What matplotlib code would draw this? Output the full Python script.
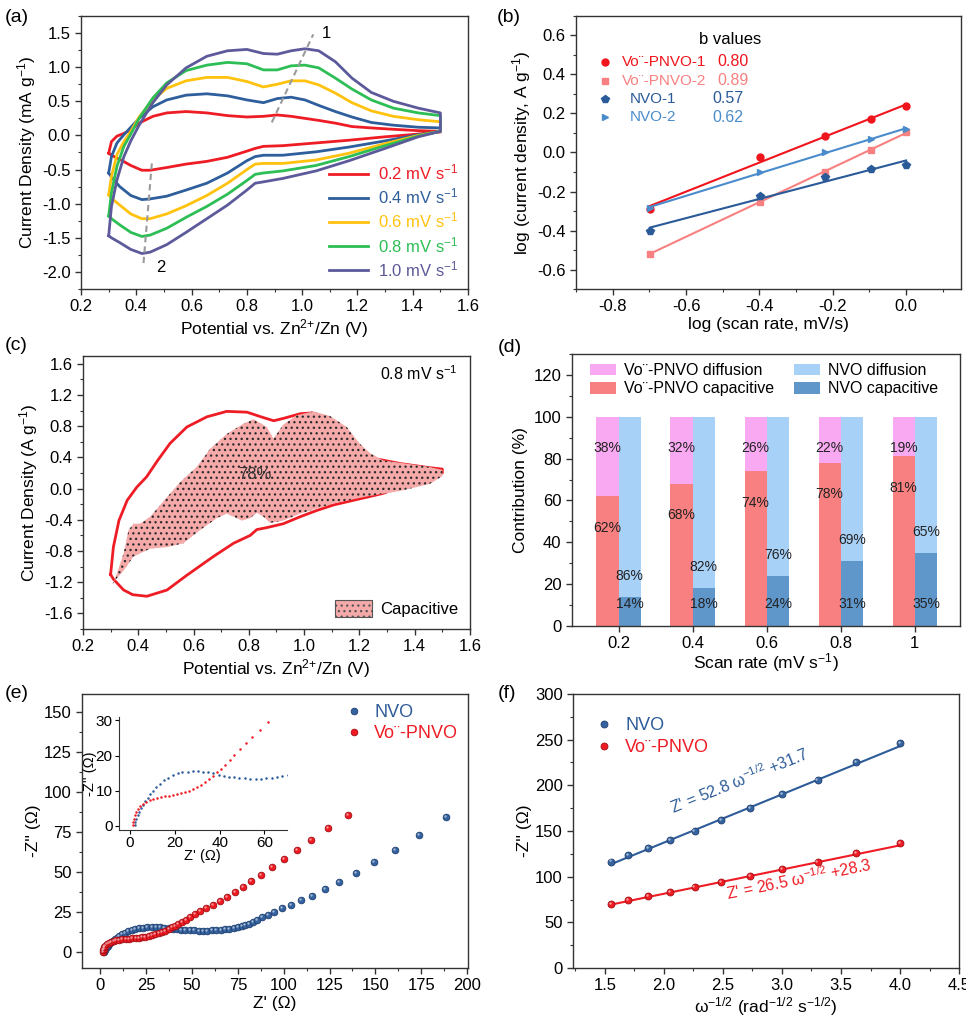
import matplotlib
matplotlib.use("Agg")
import matplotlib.pyplot as plt
import numpy as np
from matplotlib.ticker import AutoMinorLocator, MultipleLocator
from matplotlib.patches import Patch
from matplotlib.transforms import offset_copy

plt.rcParams['font.family'] = ['Liberation Sans', 'DejaVu Sans']
plt.rcParams['mathtext.default'] = 'regular'
plt.rcParams['hatch.linewidth'] = 0.9

VO = 'Vo\u00a8-PNVO'

# ---------------- (a) CV curves at different scan rates ----------------
scan_rates = [0.2, 0.4, 0.6, 0.8, 1.0]
cv_colors = ['#EE1C25', '#2E5E9C', '#FFC20E', '#2DBE55', '#5C5A9A']
v_up = [0.30, 0.31, 0.33, 0.355, 0.38, 0.41, 0.46, 0.51, 0.58, 0.655, 0.73, 0.80,
        0.86, 0.91, 0.96, 1.01, 1.06, 1.12, 1.18, 1.25, 1.33, 1.42, 1.50]
i_up_02 = [-0.26, -0.09, -0.01, 0.03, 0.08, 0.18, 0.28, 0.33, 0.35, 0.33, 0.29, 0.27,
           0.28, 0.30, 0.28, 0.25, 0.22, 0.18, 0.13, 0.11, 0.09, 0.07, 0.06]
i_up_04 = [-0.55, -0.31, -0.11, 0.01, 0.12, 0.25, 0.42, 0.52, 0.59, 0.61, 0.58, 0.52,
           0.48, 0.54, 0.56, 0.52, 0.44, 0.35, 0.27, 0.19, 0.15, 0.12, 0.11]
i_up_06 = [-0.87, -0.60, -0.28, -0.09, 0.06, 0.27, 0.52, 0.69, 0.80, 0.85, 0.85, 0.79,
           0.71, 0.75, 0.80, 0.80, 0.74, 0.62, 0.48, 0.36, 0.28, 0.23, 0.20]
i_up_08 = [-1.18, -0.84, -0.45, -0.16, 0.02, 0.25, 0.55, 0.77, 0.95, 1.03, 1.07, 1.05,
           0.96, 0.96, 1.02, 1.03, 0.99, 0.84, 0.68, 0.52, 0.40, 0.33, 0.29]
i_up_10 = [-1.47, -1.04, -0.65, -0.31, -0.08, 0.15, 0.48, 0.74, 0.99, 1.16, 1.24, 1.26,
           1.20, 1.19, 1.24, 1.27, 1.24, 1.08, 0.84, 0.63, 0.50, 0.40, 0.33]
v_lo = [1.50, 1.42, 1.30, 1.17, 1.05, 0.93, 0.86, 0.83, 0.80, 0.73, 0.655, 0.58,
        0.51, 0.45, 0.42, 0.38, 0.34, 0.31, 0.30]
i_lo_02 = [0.05, 0.02, -0.02, -0.07, -0.11, -0.15, -0.16, -0.19, -0.23, -0.32, -0.38, -0.42,
           -0.47, -0.51, -0.51, -0.44, -0.35, -0.29, -0.26]
i_lo_04 = [0.06, 0.01, -0.08, -0.17, -0.24, -0.29, -0.29, -0.31, -0.37, -0.55, -0.70, -0.80,
           -0.89, -0.93, -0.94, -0.88, -0.75, -0.61, -0.55]
i_lo_06 = [0.06, 0.00, -0.12, -0.26, -0.36, -0.41, -0.41, -0.42, -0.50, -0.70, -0.88, -1.03,
           -1.15, -1.22, -1.22, -1.15, -1.02, -0.92, -0.87]
i_lo_08 = [0.06, -0.01, -0.15, -0.31, -0.44, -0.52, -0.55, -0.57, -0.66, -0.86, -1.04, -1.20,
           -1.36, -1.46, -1.48, -1.42, -1.31, -1.22, -1.18]
i_lo_10 = [0.06, -0.02, -0.19, -0.37, -0.52, -0.63, -0.68, -0.70, -0.80, -1.02, -1.22, -1.42,
           -1.60, -1.71, -1.73, -1.67, -1.57, -1.50, -1.47]
peak1_v, peak1_i = [0.89, 1.04], [0.19, 1.48]
peak2_v, peak2_i = [0.456, 0.426], [-0.41, -1.87]

# ---------------- (b) b values ----------------
logj_pnvo1 = [-0.29, -0.024, 0.085, 0.17, 0.236]
logj_pnvo2 = [-0.518, -0.255, -0.099, 0.014, 0.103]
logj_nvo1 = [-0.40, -0.224, -0.128, -0.087, -0.063]
logj_nvo2 = [-0.285, -0.099, 0.003, 0.067, 0.118]
b_values = ['0.80', '0.89', '0.57', '0.62']

# ---------------- (c) capacitive contribution at 0.8 mV/s ----------------
c_up_v = [0.30, 0.31, 0.33, 0.36, 0.395, 0.43, 0.47, 0.515, 0.576, 0.648, 0.72, 0.793,
          0.853, 0.89, 0.925, 0.986, 1.03, 1.08, 1.14, 1.20, 1.263, 1.35, 1.45, 1.50]
c_up_i = [-1.10, -0.75, -0.41, -0.15, 0.02, 0.15, 0.36, 0.58, 0.79, 0.92, 0.99, 0.98,
          0.91, 0.87, 0.90, 0.96, 0.97, 0.88, 0.68, 0.50, 0.38, 0.32, 0.27, 0.25]
c_lo_v = [1.50, 1.40, 1.287, 1.227, 1.166, 1.106, 1.046, 0.986, 0.925, 0.865, 0.829, 0.805,
          0.745, 0.672, 0.576, 0.504, 0.431, 0.38, 0.347, 0.31, 0.30]
c_lo_i = [0.20, 0.10, -0.06, -0.11, -0.16, -0.21, -0.28, -0.36, -0.45, -0.50, -0.525, -0.60,
          -0.70, -0.87, -1.11, -1.30, -1.38, -1.36, -1.30, -1.16, -1.10]
cap_up_v = [0.311, 0.347, 0.365, 0.383, 0.407, 0.443, 0.504, 0.552, 0.612, 0.66, 0.72, 0.78,
            0.817, 0.865, 0.889, 0.925, 0.973, 1.034, 1.094, 1.154, 1.20, 1.24, 1.287, 1.35,
            1.45, 1.50]
cap_up_i = [-1.21, -0.83, -0.53, -0.45, -0.45, -0.36, -0.11, 0.085, 0.28, 0.51, 0.70, 0.83,
            0.89, 0.79, 0.64, 0.82, 0.94, 0.99, 0.93, 0.79, 0.58, 0.45, 0.36, 0.33, 0.28, 0.24]
cap_lo_v = [1.50, 1.455, 1.347, 1.227, 1.106, 0.986, 0.925, 0.877, 0.853, 0.829, 0.805, 0.775,
            0.745, 0.72, 0.684, 0.624, 0.564, 0.504, 0.443, 0.383, 0.347, 0.305]
cap_lo_i = [0.16, 0.06, -0.03, -0.10, -0.19, -0.32, -0.41, -0.44, -0.36, -0.31, -0.38, -0.41,
            -0.36, -0.32, -0.38, -0.53, -0.70, -0.75, -0.77, -0.87, -1.05, -1.22]

# ---------------- (d) contribution bars ----------------
rate_labels = ['0.2', '0.4', '0.6', '0.8', '1']
pnvo_cap = [62, 68, 74, 78, 81]
pnvo_dif = [38, 32, 26, 22, 19]
nvo_cap = [14, 18, 24, 31, 35]
nvo_dif = [86, 82, 76, 69, 65]

# ---------------- (e) Nyquist ----------------
nvo_zr = [2.0, 2.3, 2.8, 3.4, 4.1, 4.9, 5.8, 6.8, 7.9, 9.1, 10.4, 11.8, 13.4, 15.2, 17.1,
          19.1, 21.2, 23.4, 25.7, 28.0, 30.3, 32.6, 34.9, 37.2, 39.5, 41.8, 44.1, 46.4, 48.8,
          51.2, 53.6, 56.0, 58.4, 60.8, 63.2, 65.6, 68.0, 70.4, 72.8, 75.2, 77.3, 79.1, 80.9,
          83.1, 85.5, 88.2, 91.5, 94.9, 98.9, 103.8, 109.5, 115.5, 122.4, 130.2, 139.3,
          149.3, 160.7, 173.8, 188.7]
nvo_zi = [0.3, 1.0, 2.0, 3.0, 4.0, 5.0, 6.0, 7.0, 8.0, 9.0, 10.0, 11.0, 12.0, 12.9, 13.7,
          14.4, 14.9, 15.2, 15.4, 15.5, 15.5, 15.4, 15.2, 14.9, 14.6, 14.3, 14.0, 13.8, 13.6,
          13.5, 13.4, 13.4, 13.4, 13.5, 13.6, 13.8, 14.1, 14.5, 14.9, 15.4, 16.0, 16.6, 17.7,
          18.9, 20.2, 21.6, 23.1, 24.9, 27.2, 29.5, 32.2, 35.1, 39.1, 43.8, 49.2,
          55.9, 63.6, 72.9, 84.4]
pnvo_zr = [1.3, 1.5, 1.8, 2.2, 2.8, 3.6, 4.6, 5.8, 7.2, 8.7, 10.3, 12.0, 13.8, 15.6, 17.4,
           19.2, 21.0, 22.8, 24.6, 26.4, 28.2, 30.0, 31.8, 33.6, 35.4, 37.2, 39.0, 40.8, 42.6,
           44.5, 46.5, 49.1, 51.6, 54.5, 57.8, 61.5, 65.1, 69.3, 73.5, 77.6, 82.4, 87.8, 93.6,
           100.0, 107.1, 115.1, 124.2, 135.3]
pnvo_zi = [0.2, 1.0, 2.0, 3.0, 4.0, 4.9, 5.6, 6.2, 6.8, 7.2, 7.6, 7.9, 8.2, 8.4, 8.6,
           8.8, 9.0, 9.2, 9.5, 9.9, 10.4, 11.0, 11.7, 12.5, 13.4, 14.3, 15.3, 16.3, 17.4,
           18.6, 20.2, 22.0, 23.6, 25.4, 27.4, 29.5, 31.8, 34.5, 37.4, 40.7, 44.5, 48.2, 53.0,
           57.8, 63.6, 69.8, 77.3, 85.6]

# ---------------- (f) Warburg fit ----------------
w_inv = [1.548, 1.696, 1.866, 2.054, 2.259, 2.483, 2.730, 3.003, 3.301, 3.631, 3.997]
zw_nvo = [116.6, 123.6, 131.6, 140.1, 150.3, 162.1, 174.9, 190.0, 206.1, 225.5, 246.8]
zw_pnvo = [70.0, 74.4, 78.8, 83.6, 88.7, 94.6, 101.2, 108.5, 116.2, 125.4, 136.4]
fit_nvo = (52.8, 31.7)
fit_pnvo = (26.5, 28.3)

BLUE = '#2E5C98'
RED = '#EE1C25'
TICK_FS = 12
LAB_FS = 12.5

fig = plt.figure(figsize=(9.66, 10.18), dpi=100)


def style(ax, xminor=True, yminor=True, fs=TICK_FS):
    for s in ax.spines.values():
        s.set_color('#333333')
        s.set_linewidth(1.0)
    ax.tick_params(which='both', direction='out', color='#333333', labelsize=fs,
                   top=False, right=False)
    ax.tick_params(which='major', length=4, width=1)
    ax.tick_params(which='minor', length=2.5, width=0.8)
    if xminor:
        ax.xaxis.set_minor_locator(AutoMinorLocator(2))
    if yminor:
        ax.yaxis.set_minor_locator(AutoMinorLocator(2))


def spheres(ax, x, y, color, dark, ms, label=None, **kw):
    ln, = ax.plot(x, y, 'o', color=color, mfc=color, mec=dark, mew=0.6, ms=ms,
                  label=label, **kw)
    hl = offset_copy(ax.transData, fig=fig, x=-ms * 0.15, y=ms * 0.15, units='points')
    ax.plot(x, y, 'o', color='white', alpha=0.55, ms=ms * 0.35, mew=0,
            transform=hl, **kw)
    return ln


# ===== (a) =====
ax = fig.add_axes([0.0839, 0.7161, 0.4006, 0.2682])
curves_up = [i_up_02, i_up_04, i_up_06, i_up_08, i_up_10]
curves_lo = [i_lo_02, i_lo_04, i_lo_06, i_lo_08, i_lo_10]
for r, c, iu, il in zip(scan_rates, cv_colors, curves_up, curves_lo):
    ax.plot(v_up + v_lo, iu + il, color=c, lw=2, label='%.1f mV s$^{-1}$' % r)
ax.plot(peak1_v, peak1_i, ls='--', color='#9a9a9a', lw=1.5, dashes=(3, 2))
ax.plot(peak2_v, peak2_i, ls='--', color='#9a9a9a', lw=1.5, dashes=(3, 2))
ax.text(1.07, 1.49, '1', fontsize=12, ha='left', va='center')
ax.text(0.47, -1.93, '2', fontsize=12, ha='left', va='center')
ax.set_xlim(0.2, 1.6)
ax.set_ylim(-2.25, 1.75)
ax.xaxis.set_major_locator(MultipleLocator(0.2))
ax.yaxis.set_major_locator(MultipleLocator(0.5))
ax.xaxis.set_major_formatter(plt.FormatStrFormatter('%.1f'))
ax.yaxis.set_major_formatter(plt.FormatStrFormatter('%.1f'))
style(ax)
ax.set_xlabel('Potential vs. Zn$^{2{+}}$/Zn (V)', fontsize=LAB_FS, labelpad=2)
ax.set_ylabel('Current Density (mA g$^{-1}$)', fontsize=LAB_FS, labelpad=3)
ax.legend(loc='lower right', frameon=False, fontsize=12, labelcolor='linecolor',
          handlelength=2.3, handletextpad=0.6, labelspacing=0.25, borderaxespad=0.2)

# ===== (b) =====
ax = fig.add_axes([0.5963, 0.7161, 0.3986, 0.2682])
logv = np.log10(scan_rates)
series_b = [
    (logj_pnvo1, 'o', '#F0141C', 5.0, VO + '-1'),
    (logj_pnvo2, 's', '#F88080', 4.5, VO + '-2'),
    (logj_nvo1, 'p', '#2A5A98', 5.5, 'NVO-1'),
    (logj_nvo2, '>', '#4A8CCB', 5.0, 'NVO-2'),
]
for yv, mk, col, ms, lab in series_b:
    k, b0 = np.polyfit(logv, yv, 1)
    xx = np.array([logv[0], 0.0])
    ax.plot(xx, k * xx + b0, color=col, lw=1.5)
    ax.plot(logv, yv, mk, color=col, ms=ms)
ax.set_xlim(-0.9, 0.15)
ax.set_ylim(-0.7, 0.7)
ax.xaxis.set_major_locator(MultipleLocator(0.2))
ax.yaxis.set_major_locator(MultipleLocator(0.2))
ax.xaxis.set_major_formatter(plt.FormatStrFormatter('%.1f'))
ax.yaxis.set_major_formatter(plt.FormatStrFormatter('%.1f'))
style(ax)
ax.set_xlabel('log (scan rate, mV/s)', fontsize=LAB_FS, labelpad=2)
ax.set_ylabel('log (current density, A g$^{-1}$)', fontsize=LAB_FS, labelpad=3)
ax.text(0.40, 0.915, 'b values', transform=ax.transAxes, fontsize=12, ha='center',
        va='center')
rows_y = [0.832, 0.762, 0.696, 0.630]
lab_x = [0.119, 0.119, 0.140, 0.140]
val_x = [0.366, 0.366, 0.353, 0.353]
for (yv, mk, col, ms, lab), ry, lx, vx, bv in zip(series_b, rows_y, lab_x, val_x, b_values):
    ax.plot([0.075], [ry], mk, color=col, ms=ms, transform=ax.transAxes)
    ax.text(lx, ry, lab, color=col, fontsize=11, transform=ax.transAxes, va='center')
    ax.text(vx, ry, bv, color=col, fontsize=11.5, transform=ax.transAxes, va='center')

# ===== (c) =====
ax = fig.add_axes([0.0859, 0.3821, 0.4006, 0.2682])
ax.plot(c_up_v + c_lo_v, c_up_i + c_lo_i, color='#EE1C25', lw=2, zorder=2)
ax.fill(cap_up_v + cap_lo_v, cap_up_i + cap_lo_i, facecolor='#F5A9A9',
        edgecolor='#2a2a2a', lw=0, hatch='...', zorder=3)
ax.text(0.823, 0.18, '78%', fontsize=12, color='#333333', ha='center', va='center',
        zorder=4)
ax.text(1.555, 1.48, '0.8 mV s$^{-1}$', fontsize=11.5, ha='right', va='center')
ax.set_xlim(0.2, 1.6)
ax.set_ylim(-1.8, 1.7)
ax.xaxis.set_major_locator(MultipleLocator(0.2))
ax.yaxis.set_major_locator(MultipleLocator(0.4))
ax.xaxis.set_major_formatter(plt.FormatStrFormatter('%.1f'))
ax.yaxis.set_major_formatter(plt.FormatStrFormatter('%.1f'))
style(ax)
ax.set_xlabel('Potential vs. Zn$^{2{+}}$/Zn (V)', fontsize=LAB_FS, labelpad=2)
ax.set_ylabel('Current Density (A g$^{-1}$)', fontsize=LAB_FS, labelpad=3)
ax.legend(handles=[Patch(facecolor='#F5A9A9', edgecolor='#555555', hatch='...',
                         lw=0.8, label='Capacitive')],
          loc='lower right', frameon=False, fontsize=12, handlelength=2.2,
          handleheight=1.2, handletextpad=0.5, borderaxespad=0.3)

# ===== (d) =====
ax = fig.add_axes([0.5921, 0.3851, 0.4017, 0.2672])
x = np.arange(len(rate_labels))
w = 0.3
c_pd, c_pc, c_nd, c_nc = '#F8A9F2', '#F98080', '#A8D1F8', '#6097CB'
h1 = ax.bar(x - w / 2, pnvo_cap, w, color=c_pc, label=VO + ' capacitive')
h2 = ax.bar(x - w / 2, pnvo_dif, w, bottom=pnvo_cap, color=c_pd, label=VO + ' diffusion')
h3 = ax.bar(x + w / 2, nvo_cap, w, color=c_nc, label='NVO capacitive')
h4 = ax.bar(x + w / 2, nvo_dif, w, bottom=nvo_cap, color=c_nd, label='NVO diffusion')
for i in range(len(x)):
    ax.text(x[i] - w / 2, 85, '%d%%' % pnvo_dif[i], fontsize=10, ha='center', va='center',
            color='#222222')
    ax.text(x[i] - w / 2, pnvo_cap[i] - 15, '%d%%' % pnvo_cap[i], fontsize=10, ha='center',
            va='center', color='#222222')
    ax.text(x[i] + w / 2, 10.3, '%d%%' % nvo_cap[i], fontsize=10, ha='center', va='center',
            color='#222222')
    ax.text(x[i] + w / 2, nvo_cap[i] + 10, '%d%%' % nvo_dif[i], fontsize=10, ha='center',
            va='center', color='#222222')
ax.set_xlim(-0.63, 4.61)
ax.set_ylim(0, 130)
ax.set_xticks(x)
ax.set_xticklabels(rate_labels)
ax.yaxis.set_major_locator(MultipleLocator(20))
style(ax, xminor=False)
ax.set_xlabel('Scan rate (mV s$^{-1}$)', fontsize=LAB_FS, labelpad=0)
ax.set_ylabel('Contribution (%)', fontsize=LAB_FS, labelpad=4)
ax.legend(handles=[h2, h1, h4, h3], ncol=2, loc='upper left', bbox_to_anchor=(0.03, 0.99),
          frameon=False, fontsize=11.5, handlelength=1.6, handleheight=0.75,
          handletextpad=0.5, columnspacing=1.3, labelspacing=0.2, borderaxespad=0)

# ===== (e) =====
ax = fig.add_axes([0.0849, 0.0491, 0.3996, 0.2692])
l_nvo = spheres(ax, nvo_zr, nvo_zi, '#3563A0', '#1E3F70', 4.8, label='NVO')
l_pnvo = spheres(ax, pnvo_zr, pnvo_zi, '#F01A22', '#A00E14', 4.8, label=VO)
ax.set_xlim(-10, 200.5)
ax.set_ylim(-10, 161)
ax.xaxis.set_major_locator(MultipleLocator(25))
ax.yaxis.set_major_locator(MultipleLocator(25))
style(ax)
ax.set_xlabel("Z' (\u03a9)", fontsize=LAB_FS, labelpad=2)
ax.set_ylabel("-Z'' (\u03a9)", fontsize=LAB_FS, labelpad=2)
leg = ax.legend(handles=[l_nvo, l_pnvo], loc='upper right', frameon=False, fontsize=13,
                handlelength=0.8, handletextpad=0.7, labelspacing=0.25, borderaxespad=0.15)
for t, c in zip(leg.get_texts(), [BLUE, RED]):
    t.set_color(c)

axi = fig.add_axes([0.123, 0.1847, 0.174, 0.111])
axi.plot(nvo_zr, nvo_zi, 'o', color=BLUE, ms=1.8, mew=0)
axi.plot(pnvo_zr, pnvo_zi, 'o', color='#F01A22', ms=1.8, mew=0)
axi.set_xlim(-5, 70)
axi.set_ylim(-1.2, 31)
axi.set_xticks([0, 20, 40, 60])
axi.set_yticks([0, 10, 20, 30])
axi.spines['top'].set_visible(False)
axi.spines['right'].set_visible(False)
for s in axi.spines.values():
    s.set_color('#333333')
axi.tick_params(direction='out', labelsize=11, length=3, pad=1.5)
axi.set_xlabel("Z' (\u03a9)", fontsize=10.5, labelpad=-1)
axi.set_ylabel("-Z'' (\u03a9)", fontsize=10.5, labelpad=-1)

# ===== (f) =====
ax = fig.add_axes([0.5932, 0.0491, 0.3996, 0.2692])
xx = np.array([w_inv[0], w_inv[-1]])
ax.plot(xx, fit_nvo[0] * xx + fit_nvo[1], color=BLUE, lw=1.5)
ax.plot(xx, fit_pnvo[0] * xx + fit_pnvo[1], color=RED, lw=1.5)
f_nvo = spheres(ax, w_inv, zw_nvo, '#3563A0', '#1E3F70', 5.0, label='NVO')
f_pnvo = spheres(ax, w_inv, zw_pnvo, '#F01A22', '#A00E14', 5.0, label=VO)
ax.text(2.64, 205, "Z' = %.1f \u03c9$^{-1/2}$ +%.1f" % fit_nvo, color=BLUE,
        fontsize=11.5, rotation=22, ha='center', va='center', rotation_mode='anchor')
ax.text(3.14, 97, "Z' = %.1f \u03c9$^{-1/2}$ +%.1f" % fit_pnvo, color=RED,
        fontsize=11.5, rotation=11.5, ha='center', va='center', rotation_mode='anchor')
ax.set_xlim(1.23, 4.5)
ax.set_ylim(0, 300)
ax.xaxis.set_major_locator(MultipleLocator(0.5))
ax.yaxis.set_major_locator(MultipleLocator(50))
ax.xaxis.set_major_formatter(plt.FormatStrFormatter('%.1f'))
style(ax)
ax.set_xlabel('\u03c9$^{-1/2}$ (rad$^{-1/2}$ s$^{-1/2}$)', fontsize=LAB_FS, labelpad=1)
ax.set_ylabel("-Z'' (\u03a9)", fontsize=LAB_FS, labelpad=2)
leg = ax.legend(handles=[f_nvo, f_pnvo], loc='upper left', frameon=False, fontsize=13,
                handlelength=0.8, handletextpad=0.8, labelspacing=0.25, borderaxespad=0.9)
for t, c in zip(leg.get_texts(), [BLUE, RED]):
    t.set_color(c)

# panel letters
for lab, px, py in [('(a)', 5, 17), ('(b)', 497, 17), ('(c)', 5, 345), ('(d)', 498, 347),
                    ('(e)', 5, 693), ('(f)', 498, 693)]:
    fig.text(px / 966, 1 - py / 1018, lab, fontsize=14, ha='left', va='center')

fig.savefig('out.png', dpi=100)
